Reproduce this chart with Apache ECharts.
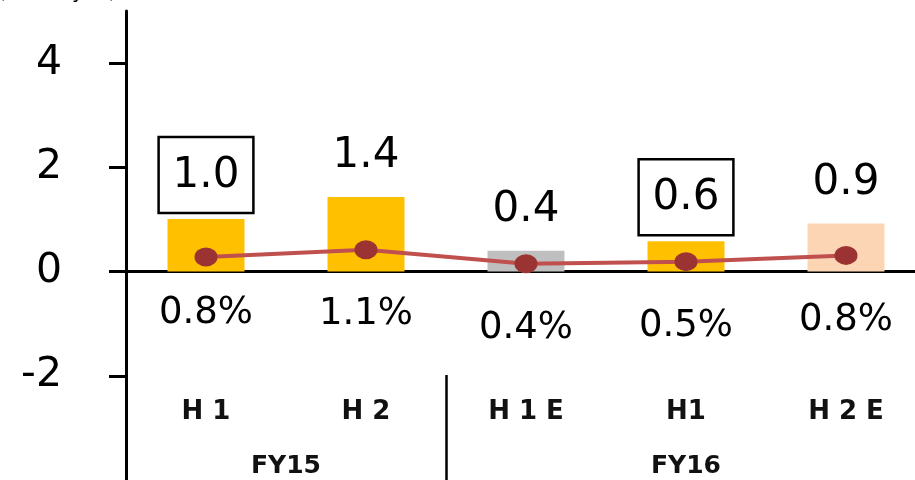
<!DOCTYPE html>
<html>
<head>
<meta charset="utf-8">
<script src="https://cdn.jsdelivr.net/npm/echarts@6/dist/echarts.min.js"></script>
<style>
html,body{margin:0;padding:0;background:#fff;}
#c{width:915px;height:480px;}
</style>
</head>
<body>
<div id="c"></div>
<script>
// ---- data ----
const categories = ['H 1', 'H 2', 'H 1 E', 'H1', 'H 2 E'];
const barValues = [1.01, 1.43, 0.40, 0.58, 0.92];
const barColors = ['#FFC000', '#FFC000', '#BFBFBF', '#FFC000', '#FCD5B5'];
const boxedLabel = [true, false, false, true, false];
const lineValues = [0.28, 0.42, 0.15, 0.19, 0.31];
const pctLabels = ['0.8%', '1.1%', '0.4%', '0.5%', '0.8%'];
const yTicks = [-2, 0, 2, 4];
const groupNames = ['FY15', 'FY16'];
const groupSizes = [2, 3];
const unitLabel = '(billion yen)';

// derived group positions (in category units)
const groupCenters = [];
const groupBounds = [];
let acc = 0;
groupSizes.forEach((n, i) => {
  groupCenters.push(acc + n / 2);
  acc += n;
  if (i < groupSizes.length - 1) groupBounds.push(acc);
});

const FONT = 'DejaVu Sans';
const chart = echarts.init(document.getElementById('c'), null, { renderer: 'canvas' });

chart.setOption({
  animation: false,
  backgroundColor: '#fff',
  grid: { left: 126, right: -11, top: 11, bottom: 0, containLabel: false, outerBoundsMode: 'none' },
  graphic: [{
    type: 'text', left: -2, top: -17,
    style: { text: unitLabel, font: '20px "DejaVu Sans"', fill: '#000' }
  }],
  xAxis: [{
    type: 'category',
    data: categories,
    position: 'bottom',
    axisLine: { show: true, onZero: true, lineStyle: { color: '#000', width: 3 } },
    axisTick: { show: false },
    axisLabel: { show: false },
    splitLine: { show: false }
  }, {
    type: 'value',
    min: 0,
    max: categories.length,
    position: 'bottom',
    axisLine: { show: false, onZero: false },
    splitLine: { show: false },
    axisTick: { show: true, inside: true, length: 105, customValues: groupBounds, lineStyle: { color: '#000', width: 2.5 } },
    axisLabel: {
      inside: true, margin: 1, customValues: groupCenters,
      formatter: v => { const i = groupCenters.indexOf(v); return i >= 0 ? groupNames[i] : ''; },
      fontFamily: FONT, fontWeight: 'bold', fontSize: 25, color: '#111'
    }
  }, {
    type: 'category',
    data: categories,
    position: 'bottom',
    axisLine: { show: false, onZero: false },
    axisTick: { show: false },
    splitLine: { show: false },
    axisLabel: { inside: true, interval: 0, margin: 55, fontFamily: FONT, fontWeight: 'bold', fontSize: 26, color: '#111' }
  }],
  yAxis: {
    type: 'value',
    min: -4,
    max: 5,
    axisLine: { show: true, lineStyle: { color: '#000', width: 3 } },
    axisTick: { show: true, length: 17, customValues: yTicks, lineStyle: { color: '#000', width: 3 } },
    axisLabel: { customValues: yTicks, margin: 64, fontFamily: FONT, fontSize: 41, color: '#000' },
    splitLine: { show: false }
  },
  series: [{
    type: 'bar',
    xAxisIndex: 0,
    barWidth: 77,
    data: barValues.map((v, i) => ({
      value: v,
      itemStyle: { color: barColors[i] },
      label: boxedLabel[i]
        ? { borderColor: '#000', borderWidth: 2.5, padding: [18, 14, 16, 14], distance: 6 }
        : { distance: 20 }
    })),
    label: {
      show: true, position: 'top',
      formatter: p => p.value.toFixed(1),
      fontFamily: FONT, fontSize: 42, color: '#000'
    },
    z: 2
  }, {
    type: 'line',
    xAxisIndex: 0,
    data: lineValues.map((v, i) => ({
      value: v,
      label: { distance: i === 0 ? 28 : 37 }
    })),
    symbol: 'circle',
    symbolSize: [23, 19],
    lineStyle: { color: '#C0504D', width: 4 },
    itemStyle: { color: '#9B3333' },
    label: {
      show: true, position: 'bottom',
      formatter: p => pctLabels[p.dataIndex],
      fontFamily: FONT, fontSize: 37, color: '#000'
    },
    z: 3
  }]
});
</script>
</body>
</html>
